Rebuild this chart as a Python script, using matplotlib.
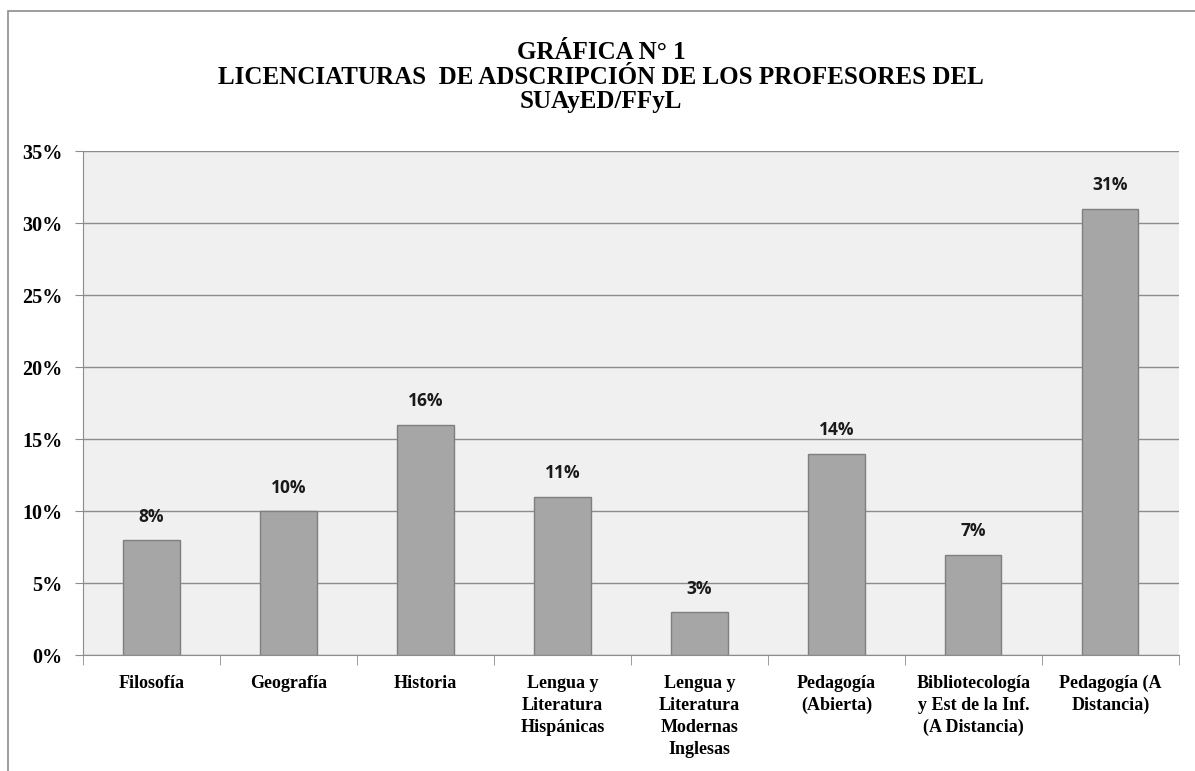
import numpy as np
import matplotlib.pyplot as plt
from matplotlib.patches import Rectangle
from matplotlib.ticker import FixedLocator, FuncFormatter

# Data
categorias = ["Filosofía", "Geografía", "Historia",
              "Lengua y\nLiteratura\nHispánicas",
              "Lengua y\nLiteratura\nModernas\nInglesas",
              "Pedagogía\n(Abierta)",
              "Bibliotecología\ny Est de la Inf.\n(A Distancia)",
              "Pedagogía (A\nDistancia)"]
porcentajes = [8, 10, 16, 11, 3, 14, 7, 31]
y_ticks = [0, 5, 10, 15, 20, 25, 30, 35]

serif = "Liberation Serif"
sans = "Open Sans"

fig = plt.figure(figsize=(11.95, 7.71), dpi=100)
ax = fig.add_axes([0.0695, 0.150, 0.917, 0.654])

# outer chart frame (partially visible like the reference)
fig.patches.append(Rectangle((8 / 1195, -0.1), 1.2, 1 - 11 / 771 + 0.1,
                             transform=fig.transFigure, fill=False,
                             edgecolor="#8c8c8c", linewidth=1.2))

x = np.arange(len(categorias))
ax.set_facecolor("#f0f0f0")
ax.bar(x, porcentajes, width=0.41, color="#a6a6a6", edgecolor="#7f7f7f",
       linewidth=1.0, zorder=3)

for xi, v in zip(x, porcentajes):
    ax.text(xi, v + 1.0, f"{v}%", ha="center", va="bottom", fontsize=12.5,
            fontweight="bold", family=sans, color="#1a1a1a")

ax.set_xlim(-0.5, len(categorias) - 0.5)
ax.set_ylim(0, 35)
ax.set_yticks(y_ticks)
ax.yaxis.set_major_formatter(FuncFormatter(lambda v, p: f"{v:.0f}%"))
ax.grid(axis="y", color="#8c8c8c", linewidth=1.0, zorder=0)

ax.set_xticks(x)
ax.set_xticklabels(categorias, fontsize=13, fontweight="bold", family=serif,
                   linespacing=1.38, va="top")
ax.xaxis.set_minor_locator(FixedLocator(np.arange(-0.5, len(categorias), 1)))
ax.tick_params(axis="x", which="major", length=0, pad=14)
ax.tick_params(axis="x", which="minor", length=7, color="#8c8c8c", direction="out")
ax.tick_params(axis="y", length=6, color="#8c8c8c", direction="out", pad=9)
for lab in ax.get_yticklabels():
    lab.set_fontfamily(serif)
    lab.set_fontweight("bold")
    lab.set_fontsize(14.5)

for side in ["top", "right"]:
    ax.spines[side].set_visible(False)
ax.spines["left"].set_color("#8c8c8c")
ax.spines["bottom"].set_color("#8c8c8c")

fig.text(0.503, 1 - 77 / 771,
         "GRÁFICA N° 1\nLICENCIATURAS  DE ADSCRIPCIÓN DE LOS PROFESORES DEL\nSUAyED/FFyL",
         ha="center", va="center", fontsize=18, fontweight="bold",
         family=serif, linespacing=1.08)

fig.savefig("out.png", dpi=100, facecolor="white")
